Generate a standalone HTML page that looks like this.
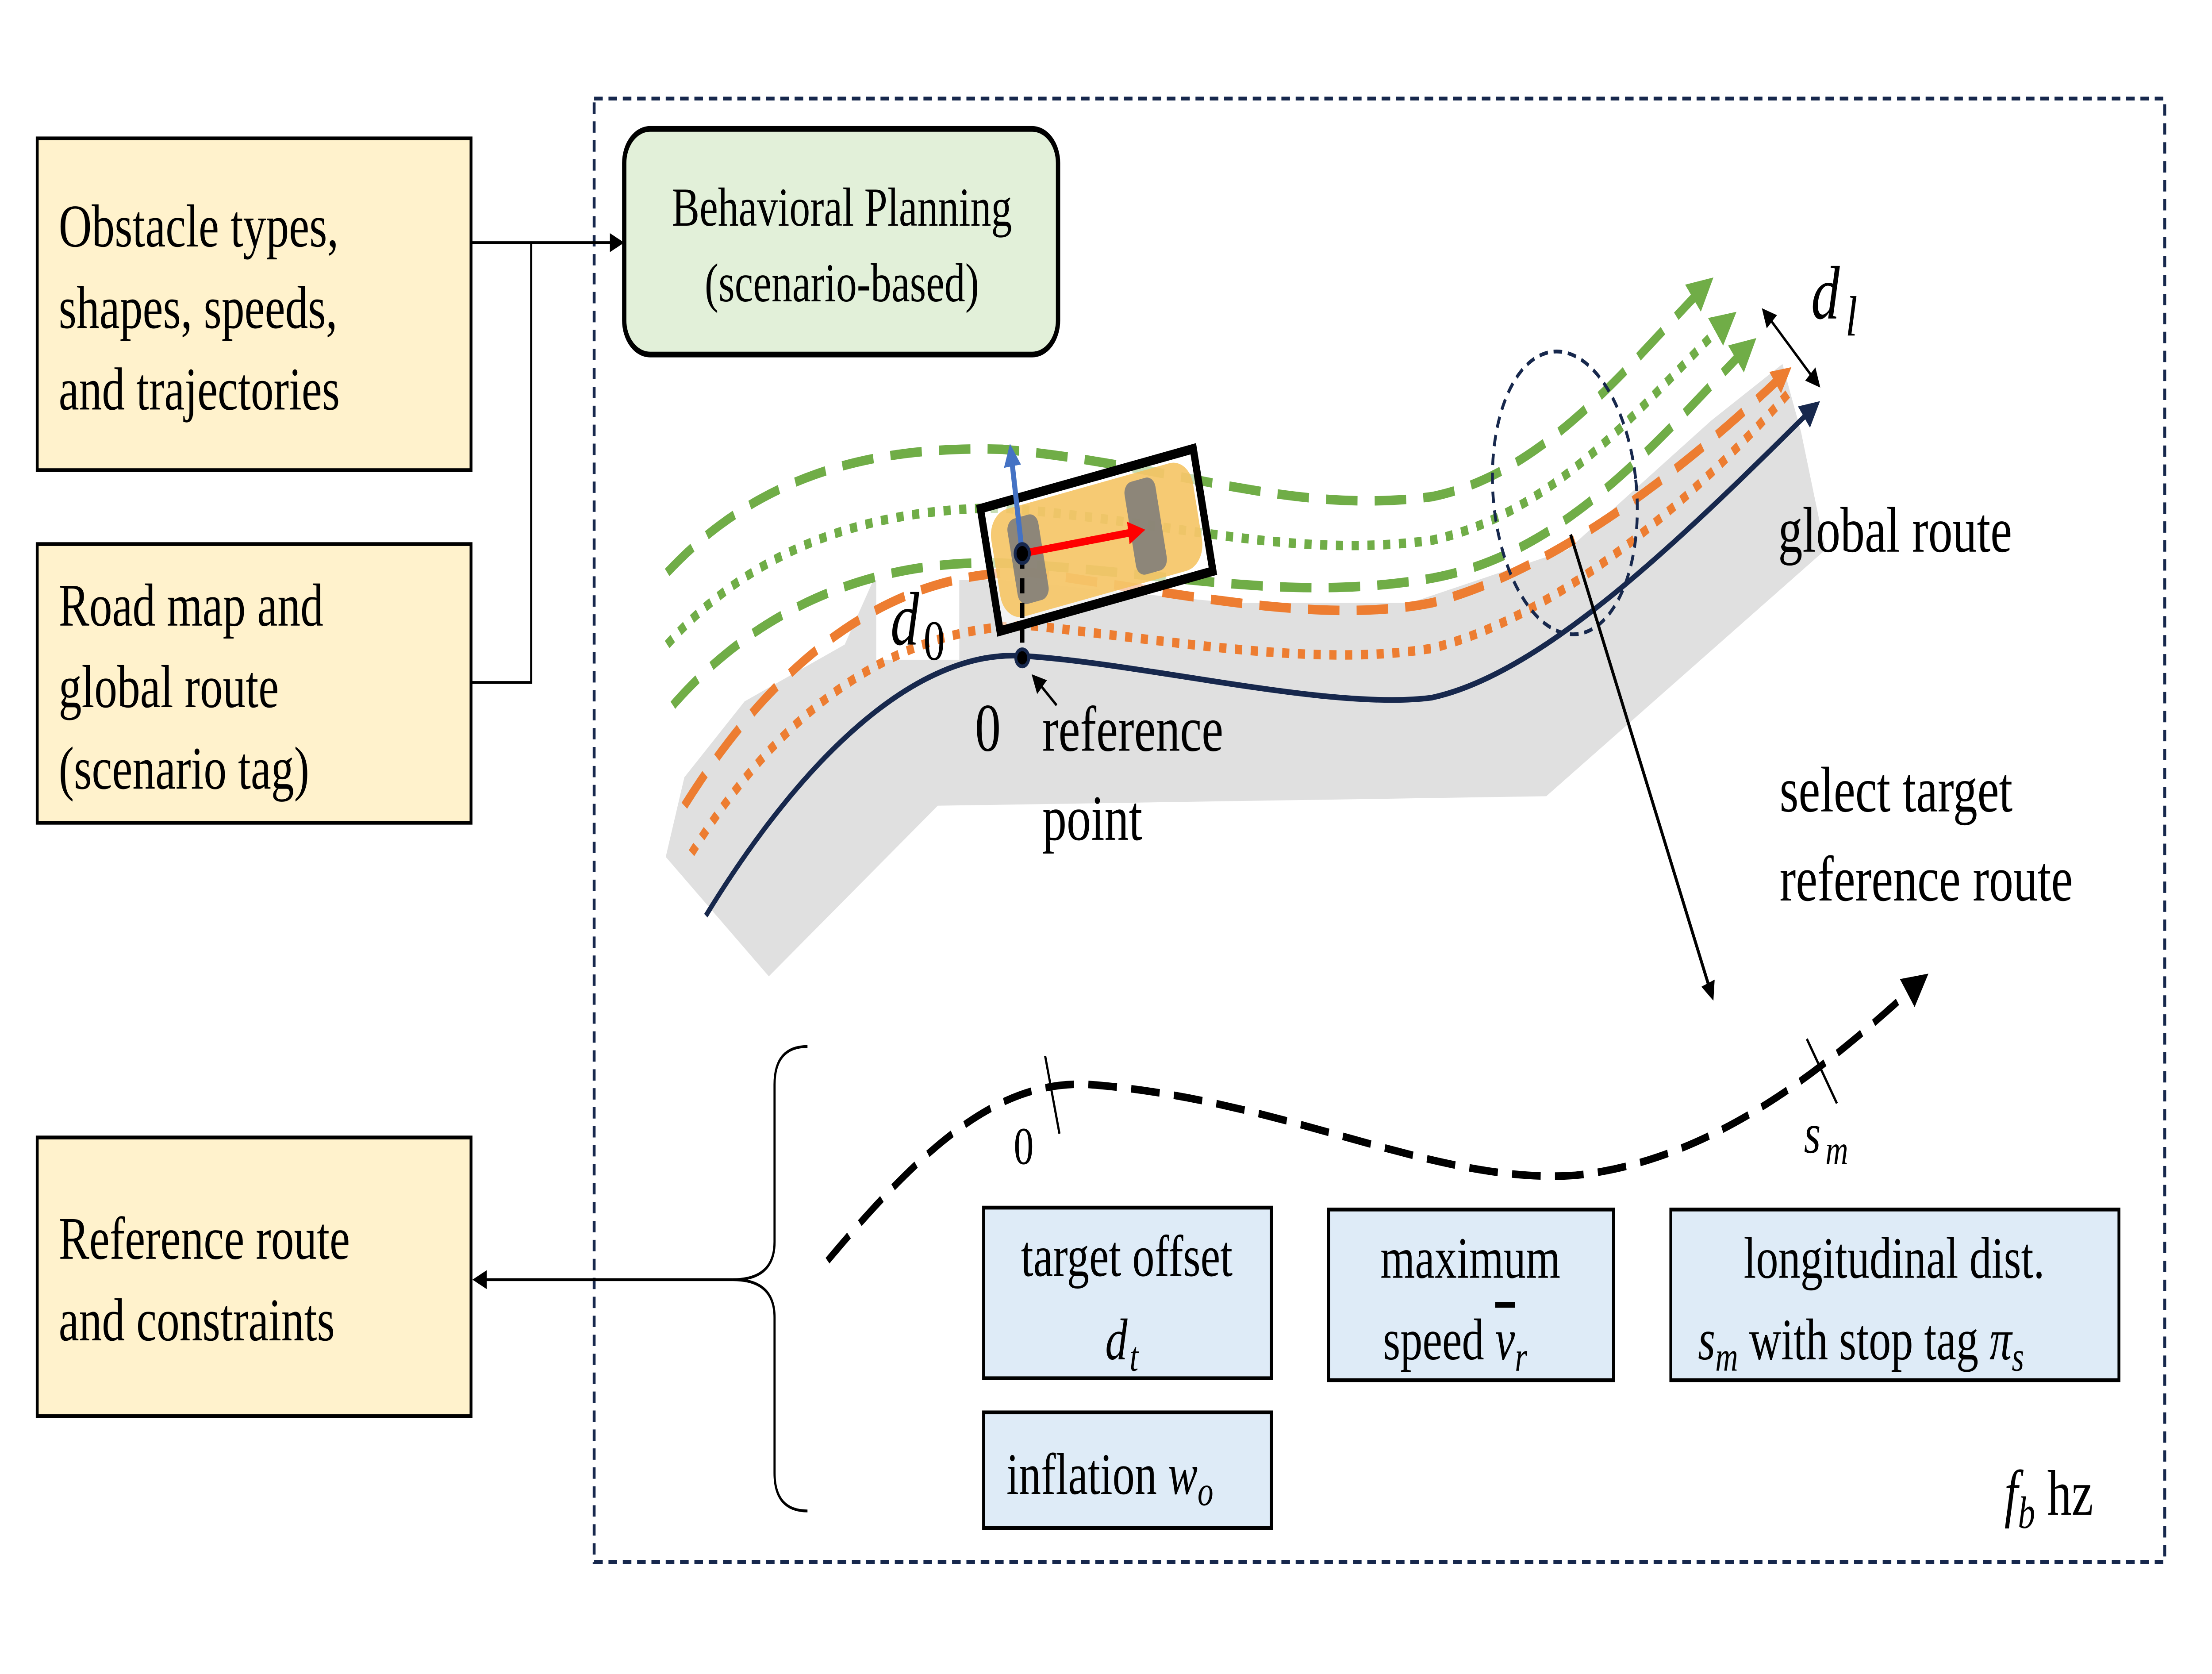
<!DOCTYPE html>
<html><head><meta charset="utf-8"><meta name="viewport" content="width=device-width, initial-scale=1"><style>
html,body{margin:0;padding:0;background:#fff;width:100%;height:100%;overflow:hidden}
svg{display:block;position:fixed;left:0;top:0;width:100vw;height:100vh}
text{font-family:"Liberation Serif",serif;fill:#000}
</style></head><body>
<svg viewBox="0 0 1545 883" preserveAspectRatio="none" xmlns="http://www.w3.org/2000/svg">
<defs>
<marker id="ab" markerWidth="10" markerHeight="10" refX="8" refY="5" orient="auto" markerUnits="userSpaceOnUse"><path d="M0,0 L10,5 L0,10 z" fill="#000"/></marker>
<marker id="ag" markerWidth="18" markerHeight="18" refX="12" refY="9" orient="auto" markerUnits="userSpaceOnUse"><path d="M0,0 L18,9 L0,18 z" fill="#70ad47"/></marker>
<marker id="ao" markerWidth="14" markerHeight="14" refX="10" refY="7" orient="auto" markerUnits="userSpaceOnUse"><path d="M0,0 L14,7 L0,14 z" fill="#ed7d31"/></marker>
<marker id="an" markerWidth="14" markerHeight="14" refX="10" refY="7" orient="auto" markerUnits="userSpaceOnUse"><path d="M0,0 L14,7 L0,14 z" fill="#17284d"/></marker>
<marker id="ak" markerWidth="18" markerHeight="18" refX="12" refY="9" orient="auto" markerUnits="userSpaceOnUse"><path d="M0,0 L18,9 L0,18 z" fill="#000"/></marker>
<marker id="ar" markerWidth="12" markerHeight="12" refX="8" refY="6" orient="auto" markerUnits="userSpaceOnUse"><path d="M0,0 L12,6 L0,12 z" fill="#f00"/></marker>
<marker id="abl" markerWidth="12" markerHeight="12" refX="8" refY="6" orient="auto" markerUnits="userSpaceOnUse"><path d="M0,0 L12,6 L0,12 z" fill="#4472c4"/></marker>
<marker id="as" markerWidth="10" markerHeight="10" refX="8" refY="5" orient="auto-start-reverse" markerUnits="userSpaceOnUse"><path d="M0,0 L10,5 L0,10 z" fill="#000"/></marker>
</defs>

<rect x="415" y="52" width="1097" height="772" fill="none" stroke="#17284d" stroke-width="2" stroke-dasharray="6,4"/>

<rect x="26" y="73" width="303" height="175" fill="#fff2cc" stroke="#000" stroke-width="2"/>
<text x="41" y="130" font-size="32">Obstacle types,</text>
<text x="41" y="173" font-size="32">shapes, speeds,</text>
<text x="41" y="216" font-size="32">and trajectories</text>
<rect x="26" y="287" width="303" height="147" fill="#fff2cc" stroke="#000" stroke-width="2"/>
<text x="41" y="330" font-size="32">Road map and</text>
<text x="41" y="373" font-size="32">global route</text>
<text x="41" y="416" font-size="32">(scenario tag)</text>
<rect x="26" y="600" width="303" height="147" fill="#fff2cc" stroke="#000" stroke-width="2"/>
<text x="41" y="664" font-size="32">Reference route</text>
<text x="41" y="707" font-size="32">and constraints</text>

<path d="M329,128 L434,128" stroke="#000" stroke-width="1.5" fill="none" marker-end="url(#ab)"/>
<path d="M329,360 L371,360 L371,128" stroke="#000" stroke-width="1.5" fill="none"/>
<path d="M512,675 L332,675" stroke="#000" stroke-width="1.5" fill="none" marker-end="url(#ab)"/>

<rect x="436" y="68" width="303" height="119" rx="18" fill="#e2f0d9" stroke="#000" stroke-width="3"/>
<text x="588" y="119" font-size="29" text-anchor="middle">Behavioral Planning</text>
<text x="588" y="159" font-size="29" text-anchor="middle">(scenario-based)</text>

<path d="M465,452 L537,515 L655,425 L1080,420 L1275,290 L1258,228 L1245,192 L1195,222 L1095,290 L985,318 L860,318 L700,306 L610,306 L590,340 L520,370 L478,410 Z" fill="#e0e0e0"/>
<rect x="612" y="298" width="58" height="50" fill="#fff"/>

<path d="M478,425 C540,350 620,300 720,302 C820,312 920,330 1000,318 C1090,300 1180,245 1248,196" fill="none" stroke="#ed7d31" stroke-width="5" stroke-dasharray="22,12" marker-end="url(#ao)"/>
<path d="M483,450 C545,375 625,330 720,330 C820,338 920,352 1000,342 C1090,325 1185,262 1252,205" fill="none" stroke="#ed7d31" stroke-width="5" stroke-dasharray="5,6"/>

<path d="M466,302 C530,250 610,235 700,237 C820,245 900,272 1000,262 C1080,250 1140,190 1192,150" fill="none" stroke="#70ad47" stroke-width="5" stroke-dasharray="22,12" marker-end="url(#ag)"/>
<path d="M466,340 C525,290 605,268 700,268 C820,275 900,295 1000,285 C1090,270 1150,210 1208,168" fill="none" stroke="#70ad47" stroke-width="5" stroke-dasharray="5,6" marker-end="url(#ag)"/>
<path d="M470,372 C530,320 610,295 700,297 C820,302 900,318 1000,305 C1095,292 1160,230 1222,182" fill="none" stroke="#70ad47" stroke-width="5" stroke-dasharray="22,12" marker-end="url(#ag)"/>

<path d="M493,483 C560,400 640,342 715,346 C800,350 930,375 1000,368 C1080,355 1180,280 1268,214" fill="none" stroke="#17284d" stroke-width="3" marker-end="url(#an)"/>

<g transform="rotate(-12 765 285)">
<rect x="688" y="250" width="156" height="70" fill="#fff" opacity="0.6"/>
<rect x="694" y="256" width="144" height="58" rx="14" fill="#f5c15a" opacity="0.85"/>
<rect x="706" y="262" width="22" height="46" rx="6" fill="#7a7a7a" opacity="0.85"/>
<rect x="790" y="260" width="22" height="50" rx="6" fill="#7a7a7a" opacity="0.85"/>
<rect x="690" y="252" width="152" height="66" fill="none" stroke="#000" stroke-width="5"/>
</g>
<line x1="714" y1="292" x2="714" y2="340" stroke="#000" stroke-width="3" stroke-dasharray="8,5"/>
<line x1="714" y1="292" x2="706" y2="238" stroke="#4472c4" stroke-width="3.5" marker-end="url(#abl)"/>
<line x1="714" y1="292" x2="796" y2="280" stroke="#f00" stroke-width="4" marker-end="url(#ar)"/>
<circle cx="714" cy="292" r="5" fill="#000" stroke="#17284d" stroke-width="2"/>
<circle cx="714" cy="347" r="4.5" fill="#000" stroke="#17284d" stroke-width="2"/>
<text x="622" y="340" font-size="40" font-style="italic">d</text>
<text x="645" y="348" font-size="30">0</text>

<text x="681" y="396" font-size="36">0</text>
<line x1="738" y1="372" x2="722" y2="357" stroke="#000" stroke-width="1.5" marker-end="url(#ab)"/>
<text x="728" y="396" font-size="34">reference</text>
<text x="728" y="443" font-size="34">point</text>

<ellipse cx="1093" cy="260" rx="50" ry="75" transform="rotate(-8 1093 260)" fill="none" stroke="#17284d" stroke-width="2" stroke-dasharray="6,4"/>
<line x1="1097" y1="282" x2="1196" y2="526" stroke="#000" stroke-width="2" marker-end="url(#ab)"/>

<line x1="1232" y1="164" x2="1270" y2="203" stroke="#000" stroke-width="1.5" marker-start="url(#as)" marker-end="url(#as)"/>
<text x="1265" y="168" font-size="40" font-style="italic">d</text>
<text x="1289" y="177" font-size="30" font-style="italic">l</text>

<text x="1242" y="291" font-size="34">global route</text>
<text x="1243" y="428" font-size="34">select target</text>
<text x="1243" y="475" font-size="34">reference route</text>

<path d="M578,665 C650,600 700,570 760,572 C900,580 1000,625 1100,620 C1200,612 1280,560 1342,517" fill="none" stroke="#000" stroke-width="4" stroke-dasharray="20,10" marker-end="url(#ak)"/>
<line x1="730" y1="557" x2="740" y2="598" stroke="#000" stroke-width="1.5"/>
<text x="708" y="614" font-size="28">0</text>
<line x1="1262" y1="548" x2="1283" y2="582" stroke="#000" stroke-width="1.5"/>
<text x="1260" y="608" font-size="30" font-style="italic">s</text>
<text x="1275" y="614" font-size="22" font-style="italic">m</text>

<path d="M564,552 Q541,552 541,572 L541,655 Q541,675 512,675 Q541,675 541,695 L541,777 Q541,797 564,797" fill="none" stroke="#000" stroke-width="1.5"/>

<rect x="687" y="637" width="201" height="90" fill="#deebf7" stroke="#000" stroke-width="2"/>
<text x="787" y="673" font-size="31" text-anchor="middle">target offset</text>
<text x="772" y="717" font-size="31" font-style="italic">d</text><text x="789" y="723" font-size="22" font-style="italic">t</text>
<rect x="928" y="638" width="199" height="90" fill="#deebf7" stroke="#000" stroke-width="2"/>
<text x="1027" y="674" font-size="31" text-anchor="middle">maximum</text>
<text x="966" y="717" font-size="31">speed <tspan font-style="italic" text-decoration="overline">v</tspan><tspan font-size="22" font-style="italic" dy="6">r</tspan></text>
<rect x="1167" y="638" width="313" height="90" fill="#deebf7" stroke="#000" stroke-width="2"/>
<text x="1323" y="674" font-size="31" text-anchor="middle">longitudinal dist.</text>
<text x="1186" y="717" font-size="31"><tspan font-style="italic">s</tspan><tspan font-size="22" font-style="italic" dy="6">m</tspan><tspan dy="-6"> with stop tag </tspan><tspan font-style="italic">π</tspan><tspan font-size="22" font-style="italic" dy="6">s</tspan></text>
<rect x="687" y="745" width="201" height="61" fill="#deebf7" stroke="#000" stroke-width="2"/>
<text x="703" y="788" font-size="31">inflation <tspan font-style="italic">w</tspan><tspan font-size="22" font-style="italic" dy="6">o</tspan></text>

<text x="1400" y="799" font-size="34"><tspan font-style="italic">f</tspan><tspan font-size="24" font-style="italic" dy="7">b</tspan><tspan dy="-7"> hz</tspan></text>
</svg>
</body></html>
